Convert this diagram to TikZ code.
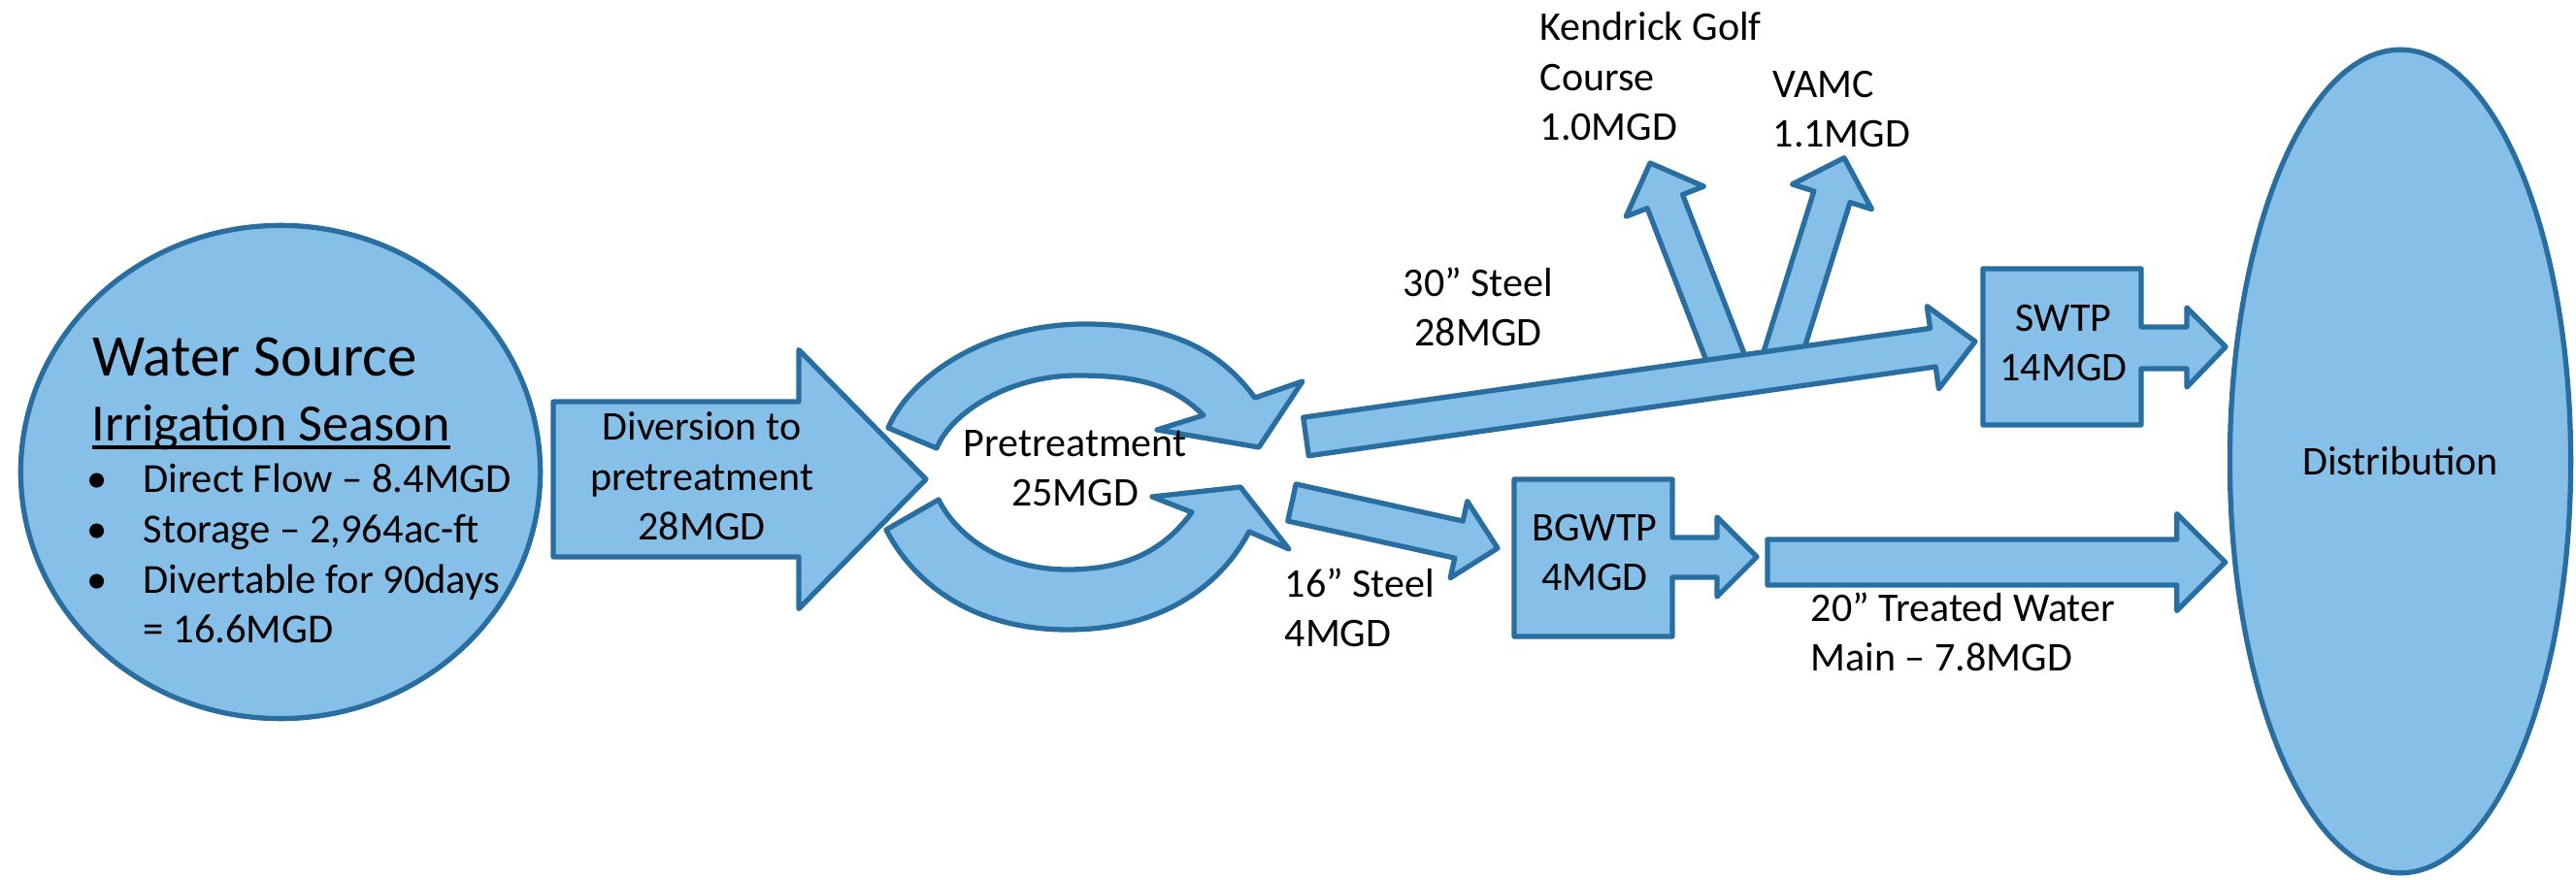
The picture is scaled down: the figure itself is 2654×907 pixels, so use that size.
\documentclass[tikz,border=0pt]{standalone}
\usepackage{fontspec}
\setmainfont{Carlito}
\usetikzlibrary{shapes.geometric}

\definecolor{flowfill}{RGB}{134,191,231}
\definecolor{flowedge}{RGB}{40,110,160}

% underline close to the baseline, as in slide text
\newcommand{\underrule}[1]{\setbox0\hbox{#1}\rlap{\rule[-2.3pt]{\wd0}{0.9pt}}\box0}

% block arrow from (#1,#2) to (#3,#4): shaft half width #5, head half width #6, head length #7
\newcommand{\flowarrow}[7]{%
  \pgfmathsetmacro{\fadx}{#3-(#1)}%
  \pgfmathsetmacro{\fady}{#4-(#2)}%
  \pgfmathsetmacro{\falen}{veclen(\fadx,\fady)}%
  \pgfmathsetmacro{\faang}{-atan2(\fady,\fadx)}%
  \pgfmathsetmacro{\fabase}{\falen-#7}%
  \draw[blockline,shift={(#1,#2)},rotate=\faang]
    (0,-#5) -- (\fabase,-#5) -- (\fabase,-#6) -- (\falen,0)
    -- (\fabase,#6) -- (\fabase,#5) -- (0,#5) -- cycle;}

\tikzset{
  blockline/.style={draw=flowedge, fill=flowfill, line width=1.5pt, line join=round},
  lbl/.style={inner sep=0pt, font=\fontsize{11.95}{14.65}\selectfont},
  bigsource/.style={ellipse, blockline, inner sep=0pt},
}

\begin{document}
\begin{tikzpicture}[x=0.01cm, y=-0.01cm]
    \useasboundingbox (0,0) rectangle (2654,907);

    % Water source and distribution
    \node[bigsource, minimum width=5.35cm, minimum height=5.08cm] (source) at (289,486.5) {};
    \node[bigsource, lbl, minimum width=3.51cm, minimum height=8.48cm] (dist) at (2473,475.5) {Distribution};

    % Diversion arrow
    \flowarrow{570}{494}{954}{494}{80}{133.5}{131}

    % Pretreatment loop (two curved arrows)
    \draw[blockline] (915,441) .. controls (939,386) and (1018,334) .. (1118,334)
        .. controls (1218,334) and (1263,370) .. (1293,410)
        -- (1342,393) -- (1297,461) -- (1192,443) -- (1240,428)
        .. controls (1211,400) and (1180,387) .. (1110,387)
        .. controls (1040,387) and (980,425) .. (965,462) -- cycle;
    \draw[blockline] (913,546) .. controls (940,599) and (1000,649) .. (1100,649)
        .. controls (1200,649) and (1259,601) .. (1287,548)
        -- (1328,566) -- (1278,502) -- (1187,512) -- (1228,528)
        .. controls (1204,560) and (1170,587) .. (1100,587)
        .. controls (1030,587) and (985,551) .. (967,515) -- cycle;

    % 16" steel to BGWTP
    \flowarrow{1331}{518}{1543}{565}{19.5}{40.5}{41}

    % Branches off the 30" steel line
    \flowarrow{1785}{387.5}{1700}{168}{19.5}{43}{42.5}
    \flowarrow{1832}{380}{1900}{162.7}{19.5}{43}{42}

    % 30" steel line to SWTP
    \flowarrow{1345.5}{450}{2035}{352}{20}{43}{44}

    % SWTP with its outlet
    \draw[blockline] (2043,277) -- (2206,277) -- (2206,337) -- (2253,337) -- (2253,317)
        -- (2293,357.5) -- (2253,399) -- (2253,380) -- (2206,380) -- (2206,438)
        -- (2043,438) -- cycle;

    % BGWTP with its outlet
    \draw[blockline] (1560,494) -- (1723,494) -- (1723,554) -- (1769,554) -- (1769,533)
        -- (1810,574) -- (1769,615) -- (1769,595) -- (1723,595) -- (1723,656)
        -- (1560,656) -- cycle;

    % 20" treated water main
    \flowarrow{1821}{579.5}{2292.7}{579.5}{23.5}{50}{50}

    % Source text
    \node[inner sep=0pt, font=\fontsize{17.3}{20}\selectfont, anchor=base west] (title) at (95,387.5) {Water Source};
    \node[inner sep=0pt, font=\fontsize{15.4}{18}\selectfont, anchor=base west] (season) at (94,454.5) {\underrule{Irrigation Season}};
    \foreach \txt [count=\i] in {Direct Flow – 8.4MGD, {Storage – 2,964ac-ft}, Divertable for 90days} {
        \node[lbl, font=\fontsize{12.1}{14.65}\selectfont, anchor=base] (dot\i) at (100,{456.3+51.7*\i}) {•};
        \node[lbl, font=\fontsize{12.1}{14.65}\selectfont, anchor=base west] (item\i) at (147,{456.3+51.7*\i}) {\txt};
    }
    \node[lbl, font=\fontsize{12.1}{14.65}\selectfont, anchor=base west] (item4) at (147,663) {= 16.6MGD};

    % Labels (anchored on the baseline of their last line)
    \node[lbl, anchor=base, align=center] (divert) at (723,557) {Diversion to\\pretreatment\\28MGD};
    \node[lbl, anchor=base, align=center] (pretreat) at (1107.5,522) {Pretreatment\\25MGD};
    \node[lbl, anchor=base, align=center] (steel30) at (1523,356.7) {30” Steel\\28MGD};
    \node[lbl, anchor=base west, align=left] (golf) at (1586,145) {Kendrick Golf\\Course\\1.0MGD};
    \node[lbl, anchor=base west, align=left] (vamc) at (1826,151.7) {VAMC\\1.1MGD};
    \node[lbl, anchor=base, align=center] (swtp) at (2126,393) {SWTP\\14MGD};
    \node[lbl, anchor=base, align=center] (bgwtp) at (1643,609) {BGWTP\\4MGD};
    \node[lbl, anchor=base west, align=left] (steel16) at (1323,667) {16” Steel\\4MGD};
    \node[lbl, anchor=base west, align=left] (main20) at (1865,691.7) {20” Treated Water\\Main – 7.8MGD};

\end{tikzpicture}
\end{document}
